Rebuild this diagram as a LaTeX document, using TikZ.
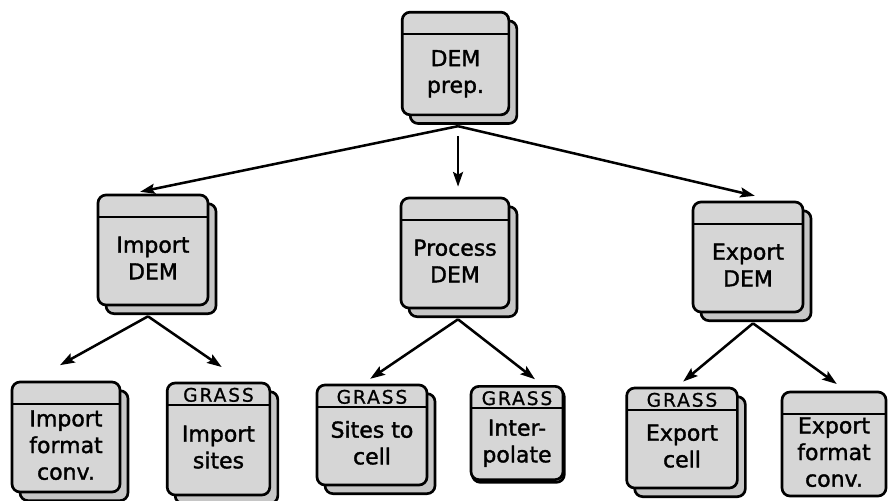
\documentclass[tikz,border=0pt]{standalone}
\usepackage{fontspec}
\setmainfont{DejaVu Sans}
\newfontfamily\boxfamily[FakeBold=1.5]{DejaVu Sans}
\newfontfamily\tagfamily[FakeBold=1,LetterSpace=10]{DejaVu Sans}
\usetikzlibrary{arrows.meta,shadows}
\definecolor{panelgray}{HTML}{D6D6D6}
\definecolor{shadegray}{HTML}{C6C6C6}
\newcommand{\boxfont}{\boxfamily\fontsize{16.5pt}{20pt}\selectfont}
\newcommand{\tagfont}{\tagfamily\fontsize{14pt}{16pt}\selectfont}
% body text of a box, set below the title bar
\newcommand{\modtext}[1]{\raisebox{-8pt}[\height][\depth]{\begin{tabular}{@{}c@{}}#1\end{tabular}}}
\tikzset{
  face/.style={
    rectangle, rounded corners=6pt, draw=black, line width=2pt, fill=panelgray,
    minimum width=81pt, minimum height=81pt, inner sep=0pt,
    font=\boxfont, text=black,
    path picture={
      \draw[line width=1.5pt]
        ([yshift=-16.5pt]path picture bounding box.north west) --
        ([yshift=-16.5pt]path picture bounding box.north east);
    }
  },
  module/.style={face, copy shadow={shadow xshift=6pt, shadow yshift=-6.5pt, fill=shadegray}},
  tag/.style={font=\tagfont, anchor=base, inner sep=0pt},
  flow/.style={-{Stealth[length=11pt,width=7.5pt,inset=2pt]}, line width=1.9pt}
}

\begin{document}
\begin{tikzpicture}[x=0.75pt, y=-0.75pt]
\useasboundingbox (0,0) rectangle (888,500);
% top level
\node[module, minimum width=80pt, minimum height=77pt] (prep) at (455.5,63.5) {\modtext{DEM\\prep.}};
% second level
\node[module, minimum width=82.5pt, minimum height=82.5pt] (impDEM) at (153,250) {\modtext{Import\\DEM}};
\node[module, minimum height=82.5pt] (procDEM) at (455,253) {\modtext{Process\\DEM}};
\node[module, minimum width=82.5pt, minimum height=82.5pt] (expDEM) at (748,257) {\modtext{Export\\DEM}};
% leaves
\node[module, minimum height=82.5pt] (impConv) at (66,437) {\modtext{Import\\format\\conv.}};
\node[module, minimum width=77pt, minimum height=84pt] (impSites) at (218.5,439) {\modtext{Import\\sites}};
\node[module, minimum width=82.5pt, minimum height=75pt] (sitesCell) at (372,435) {\modtext{Sites to\\cell}};
\node[face, copy shadow={shadow xshift=1pt, shadow yshift=-2pt, fill=shadegray},
      minimum width=69pt, minimum height=70pt] (interp) at (517,433) {\modtext{Inter-\\polate}};
\node[module, minimum width=83pt, minimum height=75pt] (expCell) at (682,438) {\modtext{Export\\cell}};
\node[face, minimum width=78pt, minimum height=78pt] (expConv) at (834,444) {\modtext{Export\\format\\conv.}};
% GRASS tags in the title bars
\node[tag] (sitesTag) at ([yshift=-15pt]impSites.north) {GRASS};
\node[tag] (cellTag) at ([yshift=-15pt]sitesCell.north) {GRASS};
\node[tag] (interpTag) at ([yshift=-15pt]interp.north) {GRASS};
\node[tag] (expTag) at ([yshift=-15pt]expCell.north) {GRASS};
% arrows
\coordinate (prepfoot) at ([xshift=1.9pt,yshift=-7.5pt]prep.south);
\coordinate (impfoot) at ([xshift=-3.75pt,yshift=-7.5pt]impDEM.south);
\coordinate (procfoot) at ([xshift=2.25pt,yshift=-7.5pt]procDEM.south);
\coordinate (expfoot) at ([xshift=3.75pt,yshift=-7.5pt]expDEM.south);
\draw[flow, shorten >=7pt] (prepfoot) -- ([xshift=-16.5pt]impDEM.north);
\draw[flow, shorten <=7.5pt, shorten >=7.5pt] (prepfoot) -- (prepfoot |- procDEM.north);
\draw[flow, shorten >=16pt] (prepfoot) -- ([xshift=20.7pt]expDEM.north);
\draw[flow, shorten >=24pt] (impfoot) -- ([xshift=-25.5pt]impConv.north);
\draw[flow, shorten >=19.4pt] (impfoot) -- ([xshift=18.4pt]impSites.north);
\draw[flow, shorten >=6.5pt] (procfoot) -- ([xshift=-6.75pt]sitesCell.north);
\draw[flow, shorten >=7pt] (procfoot) -- ([xshift=19pt]interp.north);
\draw[flow, shorten >=6pt] (expfoot) -- ([xshift=-3.75pt]expCell.north);
\draw[flow, shorten >=8.5pt] (expfoot) -- ([xshift=9pt]expConv.north);
\end{tikzpicture}
\end{document}
